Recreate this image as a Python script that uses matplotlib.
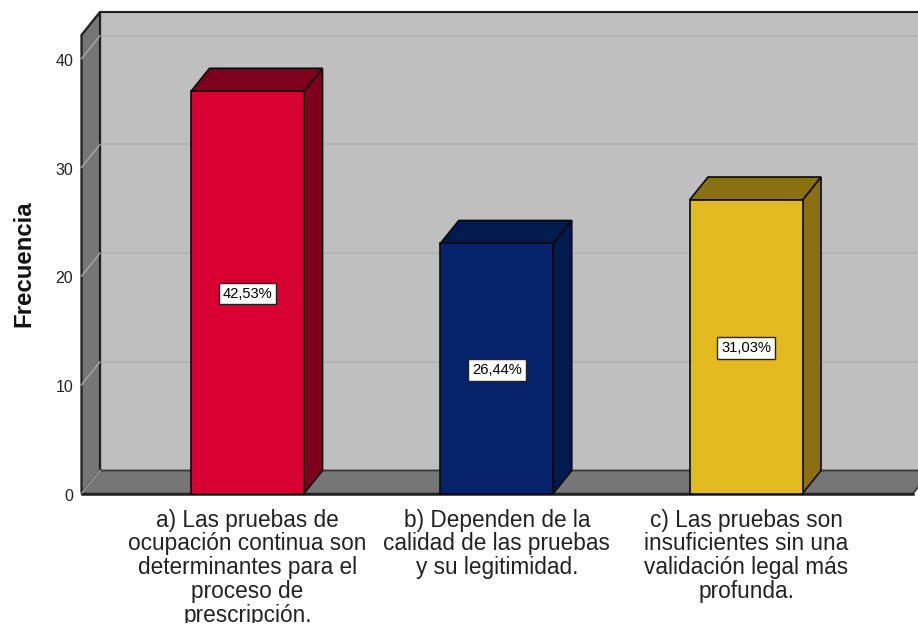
import matplotlib
matplotlib.use("Agg")
import matplotlib.pyplot as plt
from matplotlib.patches import Polygon
from matplotlib.transforms import ScaledTranslation, Bbox

plt.rcParams['font.family'] = ['Liberation Sans', 'DejaVu Sans']

categories = [
    "a) Las pruebas de\nocupación continua son\ndeterminantes para el\nproceso de\nprescripción.",
    "b) Dependen de la\ncalidad de las pruebas\ny su legitimidad.",
    "c) Las pruebas son\ninsuficientes sin una\nvalidación legal más\nprofunda.",
]
values = [37, 23, 27]
pct_labels = ["42,53%", "26,44%", "31,03%"]
front_colors = ["#D70030", "#06226B", "#E2B91E"]
side_colors = ["#7F001C", "#031A4E", "#8A7010"]
yticks = [0, 10, 20, 30, 40]

W, H = 918, 625
fig = plt.figure(figsize=(W / 100, H / 100), dpi=100, facecolor="white")

# Front plane of the 3D box, in pixels
L, R, Y0, YTOP = 81.5, 913.0, 493.5, 35.0
DX, DY = 18.5, 23.0
ax = fig.add_axes([L / W, 1 - Y0 / H, (R - L) / W, (Y0 - YTOP) / H])
PX_PER_CAT = 249.25
x_left = -(247.5 - L) / PX_PER_CAT
ax.set_xlim(x_left, x_left + (R - L) / PX_PER_CAT)
ax.set_ylim(0, (Y0 - YTOP) / 10.87)
ax.patch.set_alpha(0)
for s in ax.spines.values():
    s.set_visible(False)

dx = DX / PX_PER_CAT
dy = DY / 10.87
xa, xb = ax.get_xlim()
ya, yb = ax.get_ylim()
EDGE = "#1f1f1f"

# back wall, left wall, floor
ax.add_patch(Polygon([(xa + dx, ya + dy), (xb + dx, ya + dy), (xb + dx, yb + dy), (xa + dx, yb + dy)],
                     closed=True, fc="#BFBFBF", ec=EDGE, lw=1.5, clip_on=False, zorder=1))
ax.add_patch(Polygon([(xa, ya), (xa + dx, ya + dy), (xa + dx, yb + dy), (xa, yb)],
                     closed=True, fc="#767676", ec=EDGE, lw=1.6, clip_on=False, zorder=2))
ax.add_patch(Polygon([(xa, ya), (xb, ya), (xb + dx, ya + dy), (xa + dx, ya + dy)],
                     closed=True, fc="#767676", ec="#3a3a3a", lw=1.3, clip_on=False, zorder=2))

# gridlines on the walls
for t in yticks[1:]:
    ax.plot([xa + dx + 0.004, xb + dx], [t + dy, t + dy], color="#B3B3B3", lw=1.4, clip_on=False, zorder=1.5)
    ax.plot([xa, xa + dx], [t, t + dy], color="#A8A8A8", lw=1.0, clip_on=False, zorder=2.5)
ax.plot([xa, xa + dx], [0, dy], color="#A8A8A8", lw=1.0, clip_on=False, zorder=2.5)

# bars
BAR_W = 113 / PX_PER_CAT
xs = range(len(values))
for x, v, fc, sc in zip(xs, values, front_colors, side_colors):
    l, r = x - BAR_W / 2, x + BAR_W / 2
    ax.add_patch(Polygon([(r, 0), (r + dx, dy), (r + dx, v + dy), (r, v)],
                         closed=True, fc=sc, ec="#0a0a0a", lw=1.2, clip_on=False, zorder=3))
    ax.add_patch(Polygon([(l, v), (r, v), (r + dx, v + dy), (l + dx, v + dy)],
                         closed=True, fc=sc, ec="#0a0a0a", lw=1.2, clip_on=False, zorder=3))
ax.bar(list(xs), values, width=BAR_W, color=front_colors, edgecolor="#0a0a0a", linewidth=1.2,
       zorder=4, clip_on=False)
for x, v, lab in zip(xs, values, pct_labels):
    t = ax.annotate(lab, xy=(x, v / 2), xytext=(0, -0.8), textcoords="offset points",
                    ha="center", va="center", fontsize=10.6, color="black", zorder=6,
                    bbox=dict(boxstyle="square,pad=0.27", fc="white", ec="#222222", lw=1.0))

# front bottom edge
ax.plot([xa, xb], [0, 0], color=EDGE, lw=1.8, clip_on=False, zorder=3.5)

ax.set_yticks(yticks)
ax.tick_params(axis="y", length=0, pad=6, labelsize=11.5, colors="#222222")
for lab in ax.get_yticklabels():
    lab.set_transform(lab.get_transform() + ScaledTranslation(0, -1 / 72, fig.dpi_scale_trans))
ax.set_xticks(list(xs))
ax.set_xticklabels([])
ax.tick_params(axis="x", length=0)

clip = Bbox.from_extents(0, 2, W, H)
for x, lab in zip(xs, categories):
    t = ax.annotate(lab, xy=(x, 0), xytext=(0, -11), xycoords=("data", "axes fraction"),
                    textcoords="offset points", ha="center", va="top", fontsize=16.3,
                    color="#222222", linespacing=1.04, annotation_clip=False)
    t.set_clip_box(clip)
    t.set_clip_on(True)

fig.text(24 / W, 1 - 263.5 / H, "Frecuencia", rotation=90, ha="center", va="center",
         fontsize=17.3, fontweight="bold", color="#111111")

fig.savefig("out.png", dpi=100, facecolor="white")
